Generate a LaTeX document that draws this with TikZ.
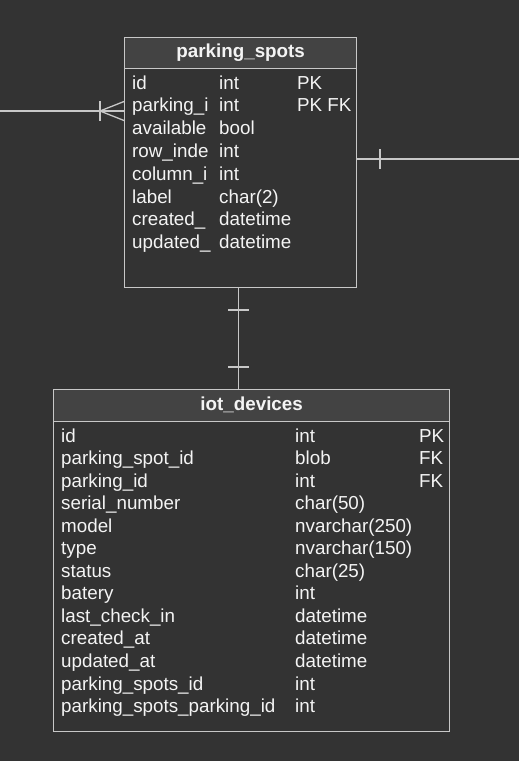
\documentclass[tikz,border=0pt]{standalone}
\usepackage{fontspec}
\setmainfont{Liberation Sans}

\definecolor{bgcol}{HTML}{333333}
\definecolor{headcol}{HTML}{434343}
\definecolor{linecol}{HTML}{C8C8C8}
\definecolor{txtcol}{HTML}{F4F4F4}

\tikzset{
  tbl/.style={draw=linecol, line width=1.3pt, anchor=north west, inner sep=0pt},
  head/.style={tbl, fill=headcol, text=txtcol, text height=13pt, text depth=4pt,
    font=\fontsize{18.8}{22}\selectfont\bfseries},
  cell/.style={anchor=base west, inner sep=0pt, text=txtcol,
    font=\fontsize{18.8}{22}\selectfont},
  rel/.style={draw=linecol, line width=1.3pt}
}

\begin{document}
\begin{tikzpicture}[x=1pt,y=1pt]

      \useasboundingbox (0,0) rectangle (519,-761);
      \fill[bgcol] (0,0) rectangle (519,-761);

      % parking_spots
      \node[tbl, minimum width=232pt, minimum height=250pt] (spots) at (124,-37) {};
      \node[head, minimum width=232pt, minimum height=31pt] (spotshead) at (124,-37) {parking\_spots};
      \foreach \n/\t/\k [count=\i from 0] in {id/int/PK, parking\_i/int/PK FK, available/bool/,
          row\_inde/int/, column\_i/int/, label/char(2)/, created\_/datetime/, updated\_/datetime/}
        {
          \node[cell] (sn\i) at (132,-89-22.8*\i) {\n};
          \node[cell] (st\i) at (219,-89-22.8*\i) {\t};
          \node[cell] (sk\i) at (297,-89-22.8*\i) {\k};
        }

      % iot_devices
      \node[tbl, minimum width=396pt, minimum height=342pt] (iot) at (53,-389) {};
      \node[head, minimum width=396pt, minimum height=32pt] (iothead) at (53,-389) {iot\_devices};
      \foreach \n/\t/\k [count=\i from 0] in {id/int/PK, parking\_spot\_id/blob/FK, parking\_id/int/FK,
          serial\_number/char(50)/, model/nvarchar(250)/, type/nvarchar(150)/, status/char(25)/,
          batery/int/, last\_check\_in/datetime/, created\_at/datetime/, updated\_at/datetime/,
          parking\_spots\_id/int/, parking\_spots\_parking\_id/int/}
        {
          \node[cell] (in\i) at (61,-442-22.55*\i) {\n};
          \node[cell] (it\i) at (295,-442-22.55*\i) {\t};
          \node[cell] (ik\i) at (419,-442-22.55*\i) {\k};
        }

      % many side (left)
      \coordinate (leftend) at (0,-111);
      \draw[rel] (leftend) -- (leftend -| spots.west);
      \draw[rel] (100,-101) -- (100,-121);
      \draw[rel] (spots.west |- 0,-101.5) -- (100,-111) -- (spots.west |- 0,-120.5);

      % one side (right)
      \coordinate (rightend) at (519,-159);
      \draw[rel] (spots.east |- rightend) -- (rightend);
      \draw[rel] (380,-149) -- (380,-169);

      % one to one
      \coordinate (vtop) at (238.5,-287);
      \draw[rel] (vtop) -- (vtop |- iot.north);
      \draw[rel] (228,-310) -- (249,-310);
      \draw[rel] (228,-367) -- (249,-367);

    \end{tikzpicture}
\end{document}
